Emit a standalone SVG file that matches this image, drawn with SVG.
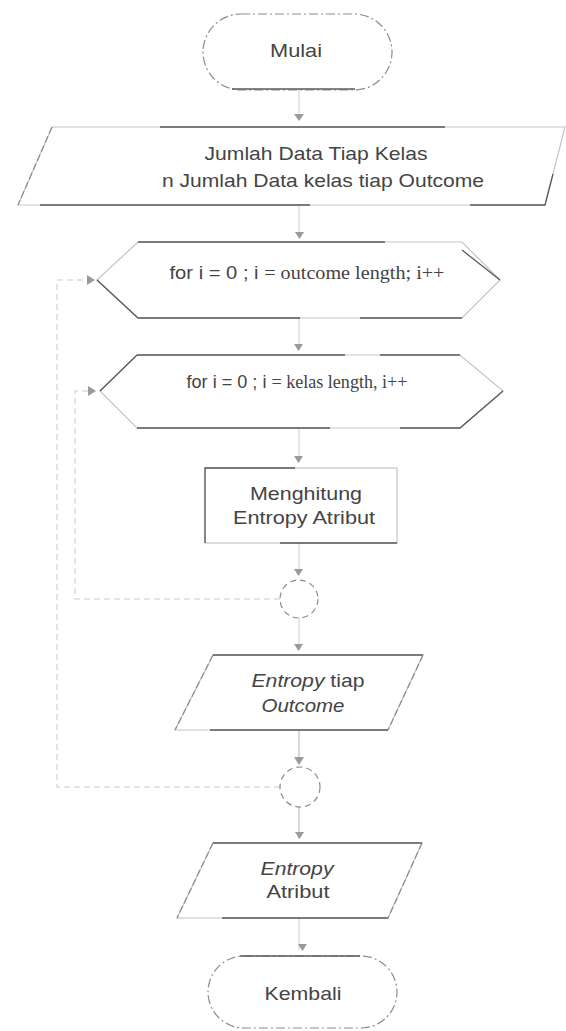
<svg xmlns="http://www.w3.org/2000/svg" width="566" height="1031" viewBox="0 0 566 1031">
<style>
.base{fill:#fff;stroke:#c4c4c4;stroke-width:1.2}
.dk{fill:none;stroke:#5a5a5a;stroke-width:1.3}
.dash{fill:none;stroke:#8a8a8a;stroke-width:1.2;stroke-dasharray:7 3}
.t{font-family:"Liberation Sans",Arial,sans-serif;fill:#444;text-anchor:middle;font-size:19px}
.s{font-family:"Liberation Serif","Times New Roman",serif}
.con{fill:none;stroke:#d6d6d6;stroke-width:1.2}
.loop{fill:none;stroke:#dcdcdc;stroke-width:1.5;stroke-dasharray:6 4}
.ah{fill:#9a9a9a}
</style>
<g id="connectors">
<path class="con" d="M299 90V120M299 205V238M299 318V350M299 428V462M299 543V575M299 618V650"/>
<path d="M299 730V764M299 807V839" fill="none" stroke="#c0c0c0" stroke-width="1.2"/>
<path class="con" d="M299 918V950"/>
<path class="loop" d="M280 599H75V391H92"/>
<path class="loop" d="M280 787H57V280H90"/>
<path class="ah" d="M294 114h10l-5 7z"/>
<path class="ah" d="M295 232h9l-4.5 7z"/>
<path class="ah" d="M294 344h9l-4.5 7z"/>
<path class="ah" d="M294 456h9l-4.5 7z"/>
<path class="ah" d="M294 569h9l-4.5 7z"/>
<path class="ah" d="M294 644h9l-4.5 7z"/>
<path class="ah" d="M294 757h10l-5 8z"/>
<path class="ah" d="M295 832h9l-4.5 7z"/>
<path class="ah" d="M298 944h9l-4.5 7z"/>
<path class="ah" d="M87 275v10l8-5z"/>
<path class="ah" d="M88 386v10l8-5z"/>
</g>
<g id="mulai">
<rect x="203" y="14" width="189" height="76" rx="38" fill="#fff" stroke="#8c8c8c" stroke-width="1.2" stroke-dasharray="9 3 2 3"/>
<path class="dk" d="M232 89H355"/>
<text class="t" x="296" y="57" textLength="52" lengthAdjust="spacingAndGlyphs">Mulai</text>
</g>
<g id="input1">
<polygon class="base" points="52,127 565,127 545,205 18,205"/>
<path class="dk" d="M160 127H445M40 205H310M470 205H545L553 174"/>
<path class="dash" d="M52 127L18 205"/>
<text class="t" x="316" y="160" textLength="223" lengthAdjust="spacingAndGlyphs">Jumlah Data Tiap Kelas</text>
<text class="t" x="323" y="187" textLength="322" lengthAdjust="spacingAndGlyphs">n Jumlah Data kelas tiap Outcome</text>
</g>
<g id="loop1">
<polygon class="base" points="138,242 462,242 500,280 462,318 138,318 97,280"/>
<path class="dk" d="M138 242H385M97 280L138 318H300M360 318H462M462 250L500 280"/>
<text class="t" x="307" y="279" textLength="275" lengthAdjust="spacingAndGlyphs">for i  = 0 ; i <tspan class="s">= outcome length; i++</tspan></text>
</g>
<g id="loop2">
<polygon class="base" points="137,355 460,355 503,391 460,428 137,428 100,391"/>
<path class="dk" d="M137 355H345M380 355H460M100 391L137 355M137 428H330M400 428H460L503 391"/>
<text class="t" x="297" y="388" textLength="221" lengthAdjust="spacingAndGlyphs">for i  = 0 ; i <tspan class="s">= kelas length, i++</tspan></text>
</g>
<g id="proses">
<rect class="base" x="205" y="468" width="192" height="75"/>
<path class="dk" d="M205 543V468H295M280 543H397"/>
<text class="t" x="306" y="500" textLength="112" lengthAdjust="spacingAndGlyphs">Menghitung</text>
<text class="t" x="304" y="524" textLength="142" lengthAdjust="spacingAndGlyphs">Entropy Atribut</text>
</g>
<g id="circle1">
<circle cx="299" cy="599" r="19" fill="#fff" stroke="#8a8a8a" stroke-width="1.2" stroke-dasharray="6 4"/>
</g>
<g id="output1">
<polygon class="base" points="213,655 423,655 388,730 175,730"/>
<path class="dk" d="M213 655H423M210 730H388"/>
<path class="dash" d="M213 655L175 730M423 655L388 730"/>
<text class="t" x="308" y="687" textLength="113" lengthAdjust="spacingAndGlyphs"><tspan font-style="italic">Entropy</tspan> tiap</text>
<text class="t" x="303" y="712" font-style="italic" textLength="83" lengthAdjust="spacingAndGlyphs">Outcome</text>
</g>
<g id="circle2">
<circle cx="300" cy="787" r="20" fill="#fff" stroke="#8a8a8a" stroke-width="1.2" stroke-dasharray="6 4"/>
</g>
<g id="output2">
<polygon class="base" points="213,843 422,843 388,918 177,918"/>
<path class="dk" d="M213 843H422M222 918H388"/>
<path class="dash" d="M213 843L177 918M422 843L388 918"/>
<text class="t" x="297" y="875" font-style="italic" textLength="73" lengthAdjust="spacingAndGlyphs">Entropy</text>
<text class="t" x="298" y="898" textLength="63" lengthAdjust="spacingAndGlyphs">Atribut</text>
</g>
<g id="kembali">
<rect x="208" y="956" width="189" height="72" rx="36" fill="#fff" stroke="#8c8c8c" stroke-width="1.2" stroke-dasharray="9 3 2 3"/>
<path class="dk" d="M240 956H360"/>
<text class="t" x="303" y="1000" textLength="77" lengthAdjust="spacingAndGlyphs">Kembali</text>
</g>
</svg>
